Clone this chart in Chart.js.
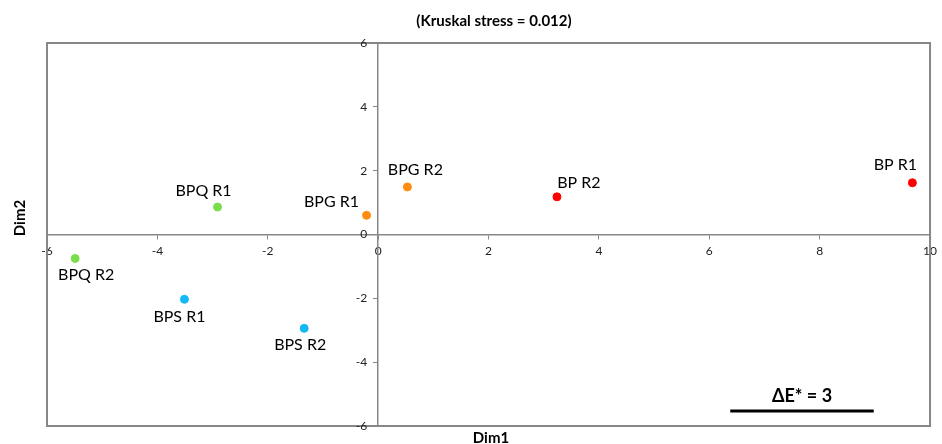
<!DOCTYPE html>
<html>
<head>
<meta charset="utf-8">
<script src="https://cdn.jsdelivr.net/npm/chart.js@4"></script>
<style>
  html, body { margin: 0; padding: 0; background: #fff; }
  #wrap { width: 942px; height: 444px; }
</style>
</head>
<body>
<div id="wrap"><canvas id="myChart" width="942" height="444"></canvas></div>
<script>
'use strict';

// MDS-plot punten (Dim1, Dim2)
const labels = ['BPQ R1', 'BPQ R2', 'BPG R1', 'BPG R2', 'BP R1', 'BP R2', 'BPS R1', 'BPS R2'];
const dim1 = [-2.91, -5.49, -0.21, 0.53, 9.68, 3.24, -3.51, -1.34];
const dim2 = [0.86, -0.75, 0.6, 1.49, 1.62, 1.18, -2.03, -2.94];
const groupColors = ['#7ade4a', '#7ade4a', '#ff8c0f', '#ff8c0f', '#ff0000', '#ff0000', '#12b9f5', '#12b9f5'];

// schaalbalk ΔE* = 3
const scaleBarX = [6.38, 8.98];
const scaleBarY = [-5.53, -5.53];
const scaleBarText = 'ΔE* = 3';

const tickValues = [-6, -4, -2, 0, 2, 4, 6, 8, 10];
const yTickValues = [-6, -4, -2, 0, 2, 4, 6];

const chartTitle = '(Kruskal stress = 0.012)';
const xTitle = 'Dim1';
const yTitle = 'Dim2';

// label offsets t.o.v. het punt (px)
const labelOffsets = [[-14, -16], [11, 16], [-35, -14], [8, -17], [-17, -18], [22, -14], [-5, 18], [-4, 17]];

const FONT = 'Lato, "Open Sans", sans-serif';

const punten = labels.map(function(l, i) {
  return { x: dim1[i], y: dim2[i] };
});
const balk = scaleBarX.map(function(x, i) {
  return { x: x, y: scaleBarY[i] };
});

const extraTekst = {
  id: 'extraTekst',
  beforeDatasetsDraw: function(chart) {
    const ctx = chart.ctx;
    const a = chart.chartArea;
    ctx.save();
    ctx.strokeStyle = '#878787';
    ctx.lineWidth = 2;
    ctx.strokeRect(a.left, a.top, a.right - a.left, a.bottom - a.top);
    ctx.restore();
  },
  afterDatasetsDraw: function(chart) {
    const ctx = chart.ctx;
    ctx.save();

    // y-as labels links van de as
    const xs = chart.scales.x;
    const ys = chart.scales.y;
    const asX = xs.getPixelForValue(0);
    ctx.fillStyle = '#222';
    ctx.font = '12px ' + FONT;
    ctx.textAlign = 'right';
    ctx.textBaseline = 'middle';
    yTickValues.forEach(function(v) {
      ctx.fillText(String(v), asX - 11, ys.getPixelForValue(v));
    });

    ctx.fillStyle = '#000';
    ctx.textAlign = 'center';

    // punt labels
    ctx.font = '16px ' + FONT;
    const meta = chart.getDatasetMeta(0);
    meta.data.forEach(function(p, i) {
      ctx.fillText(labels[i], p.x + labelOffsets[i][0], p.y + labelOffsets[i][1]);
    });

    // schaalbalk tekst
    const bm = chart.getDatasetMeta(1);
    const mx = (bm.data[0].x + bm.data[1].x) / 2;
    ctx.font = 'bold 18px ' + FONT;
    ctx.fillText(scaleBarText, mx, bm.data[0].y - 15);

    // titel
    ctx.font = 'bold 15px ' + FONT;
    ctx.fillText(chartTitle, 494, 21);

    // as-titels
    ctx.font = 'bold 15px ' + FONT;
    ctx.fillText(xTitle, 491, 438);
    ctx.translate(20, 218);
    ctx.rotate(-Math.PI / 2);
    ctx.fillText(yTitle, 0, 0);
    ctx.restore();
  }
};

const init = function() {
  const ctx = document.getElementById('myChart');
  const myChart = new Chart(ctx, {
    type: 'scatter',
    data: {
      datasets: [
        {
          label: 'punten',
          data: punten,
          backgroundColor: groupColors,
          borderColor: groupColors,
          pointRadius: 4,
          pointHoverRadius: 4
        },
        {
          label: 'schaal',
          data: balk,
          showLine: true,
          borderColor: '#000',
          borderWidth: 3,
          pointRadius: 0
        }
      ]
    },
    options: {
      responsive: false,
      animation: false,
      events: [],
      layout: { padding: { left: 47, right: 8, top: 43, bottom: 18 } },
      plugins: {
        legend: { display: false },
        tooltip: { enabled: false }
      },
      scales: {
        x: {
          type: 'linear',
          position: { y: 0 },
          min: -6,
          max: 10,
          afterBuildTicks: function(axis) {
            axis.ticks = tickValues.map(function(v) { return { value: v }; });
          },
          grid: { drawOnChartArea: false, drawTicks: true, tickLength: 4, color: '#878787' },
          border: { display: true, color: '#878787', width: 1.5 },
          ticks: { color: '#222', font: { size: 12, family: FONT }, padding: 5, maxRotation: 0 }
        },
        y: {
          type: 'linear',
          position: { x: 0 },
          min: -6,
          max: 6,
          afterBuildTicks: function(axis) {
            axis.ticks = yTickValues.map(function(v) { return { value: v }; });
          },
          grid: { drawOnChartArea: false, drawTicks: true, tickLength: 4, color: '#878787' },
          border: { display: true, color: '#878787', width: 1.5 },
          ticks: { display: false }
        }
      }
    },
    plugins: [extraTekst]
  });
};

document.addEventListener('DOMContentLoaded', function() {
  init();
});
</script>
</body>
</html>
